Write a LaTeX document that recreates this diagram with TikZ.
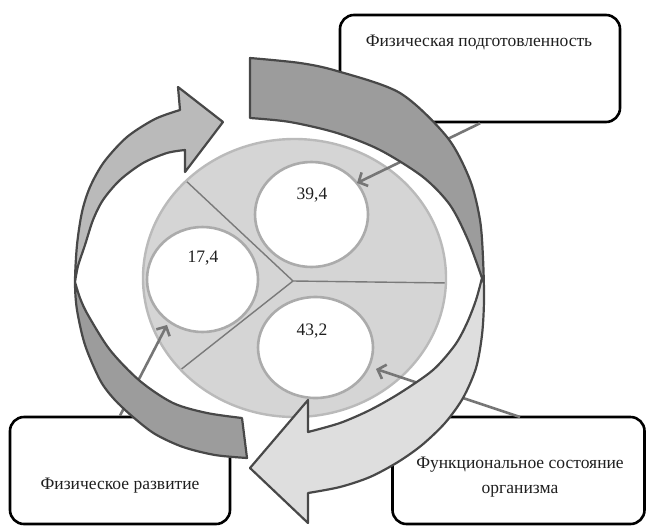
\documentclass[tikz,border=0pt]{standalone}
\usepackage{fontspec}
\setmainfont{Liberation Serif}
\newfontfamily\diagserif{Liberation Serif}
\usetikzlibrary{arrows.meta,shapes.geometric}
\definecolor{bandDark}{HTML}{9C9C9C}
\definecolor{bandMid}{HTML}{BABABA}
\definecolor{bandLight}{HTML}{DEDEDE}
\definecolor{bandEdge}{HTML}{484848}
\definecolor{pieFill}{HTML}{D5D5D5}
\definecolor{pieEdge}{HTML}{BABABA}
\definecolor{segLine}{HTML}{7A7A7A}
\definecolor{circEdge}{HTML}{ABABAB}
\definecolor{connCol}{HTML}{767676}
\begin{document}
\begin{tikzpicture}[x=1pt,y=-1pt,
  boxstyle/.style={draw=black, line width=2.6pt, rounded corners=14pt, fill=white, inner sep=0pt},
  labeltext/.style={font=\diagserif\fontsize{17.5}{25}\selectfont, align=center, inner sep=0pt, text=black!88},
  numtext/.style={font=\diagserif\fontsize{17.5}{21}\selectfont, inner sep=0pt, text=black!88},
  circstyle/.style={ellipse, draw=circEdge, line width=2.6pt, fill=white, inner sep=0pt},
  conn/.style={draw=connCol, line width=2.6pt, -{Straight Barb[length=7pt,width=15pt]}},
  bandline/.style={draw=bandEdge, line width=2.2pt, line join=round}
]
\useasboundingbox (0,0) rectangle (647,525);

% boxes
\node[boxstyle, minimum width=280pt, minimum height=107pt] (pbox) at (480,68.5) {};
\node[boxstyle, minimum width=220pt, minimum height=107pt] (rbox) at (120,470.5) {};
\node[boxstyle, minimum width=252pt, minimum height=107pt] (fbox) at (518.5,470.5) {};

% pie
\node[ellipse, fill=pieFill, inner sep=0pt, minimum width=303pt, minimum height=278pt] (pie) at (294.5,278) {};
\begin{scope}
  \clip (294.5,278) ellipse [x radius=151.5pt, y radius=139pt];
  \coordinate (hub) at (293,281);
  \coordinate (segR) at (450,283);
  \coordinate (segUL) at (184,179);
  \coordinate (segLL) at (179,371);
  \draw[segLine, line width=1.4pt] (hub) -- (segR);
  \draw[segLine, line width=1.4pt] (hub) -- (segUL);
  \draw[segLine, line width=1.4pt] (hub) -- (segLL);
\end{scope}
\draw[pieEdge, line width=2.4pt] (294.5,278) ellipse [x radius=151.5pt, y radius=139pt];

% inner circles
\node[circstyle, minimum width=113pt, minimum height=105pt] (c39) at (311.5,214.5) {};
\node[circstyle, minimum width=111pt, minimum height=105pt] (c17) at (202.5,279.5) {};
\node[circstyle, minimum width=115pt, minimum height=101pt] (c43) at (315.5,347.5) {};
\node[numtext] (n39) at (312,195) {39,4};
\node[numtext] (n17) at (203,258) {17,4};
\node[numtext] (n43) at (312,331) {43,2};

% connectors
\coordinate (tip39) at (357,183);
\coordinate (tip43) at (376,369);
\coordinate (tip17) at (167,325);
\coordinate (fstart) at (520,417);
\draw[conn] (pbox.south) -- (tip39);
\draw[conn] (fstart) -- (tip43);
\draw[conn] (rbox.north) -- (tip17);

% right arrow (twisted ribbon)
\def\RApath{(250,58) -- plot[smooth] coordinates {(250,58) (300,63) (337,71) (400,93) (447,137) (470,180) (480,220) (483,258) (484,300) (482,335) (476,368) (463,398) (445,423) (422,445) (398,462) (370,477) (340,487) (308,493)}
 -- (308,523) -- (250,468) -- (308,400) -- (308,432)
 -- plot[smooth] coordinates {(308,432) (340,423) (370,410) (400,393) (433,370) (455,345) (467,323) (476,300) (482,278)}
 -- plot[smooth] coordinates {(482,278) (468,240) (450,205) (423,177) (380,150) (337,133) (290,122) (250,118)}
 -- cycle}
\fill[bandLight] \RApath;
\begin{scope}
  \clip (250,118) -- plot[smooth] coordinates {(250,118) (290,122) (337,133) (380,150) (423,177) (450,205) (468,240) (482,278)} -- (660,278) -- (660,-10) -- (240,-10) -- (240,118) -- cycle;
  \fill[bandDark] \RApath;
\end{scope}
\draw[bandline] \RApath;

% left arrow (twisted ribbon)
\def\LApath{(247,458) -- plot[smooth] coordinates {(247,458) (215,455) (183,447) (155,434) (133,417) (114,399) (100,380) (85,345) (77,310) (75,282) (77,245) (82,212) (90,187) (104,162) (127,137) (155,119) (180,110)}
 -- (178,87) -- (223,122) -- (185,172) -- (185,150)
 -- plot[smooth] coordinates {(185,150) (167,153) (143,163) (120,180) (103,200) (93,220) (85,245) (78,266) (75,282)}
 -- plot[smooth] coordinates {(75,282) (80,298) (88,315) (110,350) (140,381) (173,403) (207,413) (242,418)}
 -- cycle}
\fill[bandMid] \LApath;
\begin{scope}
  \clip (75,282) -- plot[smooth] coordinates {(75,282) (80,298) (88,315) (110,350) (140,381) (173,403) (207,413) (242,418)} -- (300,418) -- (300,540) -- (-10,540) -- (-10,282) -- cycle;
  \fill[bandDark] \LApath;
\end{scope}
\draw[bandline] \LApath;

% box texts
\node[labeltext] (ptext) at (479,42) {Физическая подготовленность};
\node[labeltext] (rtext) at (120,486) {Физическое развитие};
\node[labeltext] (ftext) at (520,477) {Функциональное состояние\\организма};
\end{tikzpicture}
\end{document}
